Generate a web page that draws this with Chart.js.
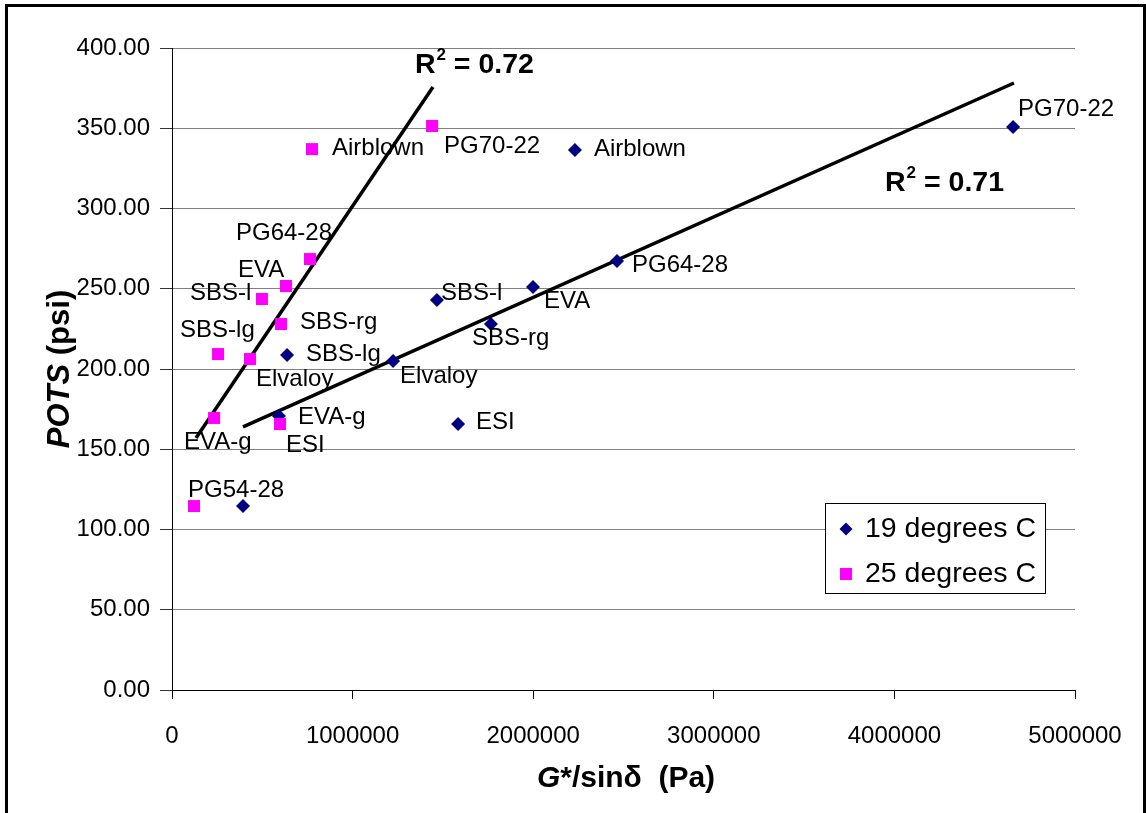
<!DOCTYPE html>
<html lang="en">
<head>
<meta charset="UTF-8" />
<title>POTS x G*/sin delta</title>
<script src="https://cdn.jsdelivr.net/npm/chart.js@4.4.0/dist/chart.umd.min.js"></script>
<style>
  html, body { margin: 0; padding: 0; background: #fff; }
  .caixa { position: relative; width: 1146px; height: 813px; }
</style>
</head>
<body>
<div class="caixa"><canvas id="grafico"></canvas></div>

<script>
  // dados
  const nomes = ["PG54-28", "EVA-g", "ESI", "Elvaloy", "SBS-lg", "SBS-rg", "SBS-l", "EVA", "PG64-28", "Airblown", "PG70-22"];
  const g19 = [393000, 592000, 1584000, 1224000, 637000, 1766000, 1467000, 1999000, 2464000, 2231000, 4657000];
  const pots19 = [114.6, 170.7, 165.7, 205.0, 208.7, 228.0, 243.0, 251.1, 267.3, 336.4, 350.8];
  const g25 = [122000, 233000, 598000, 432000, 255000, 604000, 498000, 631000, 764000, 775000, 1440000];
  const pots25 = [114.6, 169.5, 165.7, 206.2, 209.3, 228.0, 243.6, 251.7, 268.5, 337.0, 351.4];
  const tend19X = [393000, 4662000];
  const tend19Y = [163.9, 378.2];
  const tend25X = [133000, 1445000];
  const tend25Y = [157.0, 375.7];
  const r2Valores = ["0.72", "0.71"];
  const series = ["19 degrees C", "25 degrees C"];

  const fonte = "'Liberation Sans', Arial, sans-serif";
  const azul = "#000080";
  const rosa = "#ff00ff";

  // onde fica cada rotulo em relacao ao ponto (px)
  const desloc19 = [null, [19, 1], [18, -2], [7, 15], [19, -1], [-19, 14], [4, -7], [11, 14], [15, 4], [19, -1], [5, -18]];
  const desloc25 = [[-6, -16], [-30, 24], [6, 21], [6, 20], [-38, -24], [19, -2], [-72, -6], [-48, -16], [-74, -26], [20, -1], [12, 20]];
  // ancora do texto R2 (unidades dos eixos)
  const r2Ancora = [[1345000, 384.4], [3948000, 310.9]];

  function pontos(xs, ys) {
    return xs.map((x, i) => ({ x: x, y: ys[i] }));
  }

  const desenhos = {
    id: "desenhos",
    beforeDraw(chart) {
      const ctx = chart.ctx;
      ctx.save();
      ctx.fillStyle = "#fff";
      ctx.fillRect(0, 0, chart.width, chart.height);
      ctx.restore();
    },
    afterDatasetsDraw(chart) {
      const ctx = chart.ctx;
      ctx.save();
      ctx.fillStyle = "#000";
      ctx.font = "24px " + fonte;
      ctx.textAlign = "left";
      ctx.textBaseline = "middle";
      [[0, desloc25], [1, desloc19]].forEach(([ds, desl]) => {
        const meta = chart.getDatasetMeta(ds);
        meta.data.forEach((p, i) => {
          if (!desl[i]) return;
          ctx.fillText(nomes[i], p.x + desl[i][0], p.y + desl[i][1]);
        });
      });
      ctx.restore();
    },
    afterDraw(chart) {
      const ctx = chart.ctx;
      const sx = chart.scales.x;
      const sy = chart.scales.y;
      ctx.save();

      // moldura
      ctx.strokeStyle = "#000";
      ctx.lineWidth = 3;
      ctx.strokeRect(6.5, 5.5, 1138, 830);

      // R2
      ctx.fillStyle = "#000";
      ctx.textBaseline = "alphabetic";
      ctx.textAlign = "left";
      r2Valores.forEach((v, i) => {
        let x = sx.getPixelForValue(r2Ancora[i][0]);
        const y = sy.getPixelForValue(r2Ancora[i][1]);
        ctx.font = "bold 28.5px " + fonte;
        ctx.fillText("R", x, y);
        x += ctx.measureText("R").width + 1;
        ctx.font = "bold 17px " + fonte;
        ctx.fillText("2", x, y - 13);
        x += ctx.measureText("2").width;
        ctx.font = "bold 28.5px " + fonte;
        ctx.fillText(" = " + v, x, y);
      });

      // titulo eixo y
      ctx.save();
      ctx.translate(60, 369);
      ctx.rotate(-Math.PI / 2);
      ctx.textBaseline = "middle";
      ctx.font = "italic bold 31px " + fonte;
      const a1 = ctx.measureText("POTS").width;
      ctx.font = "bold 31px " + fonte;
      const a2 = ctx.measureText(" (psi)").width;
      let ix = -(a1 + a2) / 2;
      ctx.font = "italic bold 31px " + fonte;
      ctx.fillText("POTS", ix, 0);
      ctx.font = "bold 31px " + fonte;
      ctx.fillText(" (psi)", ix + a1, 0);
      ctx.restore();

      // titulo eixo x
      ctx.textBaseline = "middle";
      ctx.font = "italic bold 30px " + fonte;
      const b1 = ctx.measureText("G").width;
      ctx.font = "bold 30px " + fonte;
      const b2 = ctx.measureText("*/sin\u03b4  (Pa)").width;
      let jx = 626 - (b1 + b2) / 2;
      ctx.font = "italic bold 30px " + fonte;
      ctx.fillText("G", jx, 779);
      ctx.font = "bold 30px " + fonte;
      ctx.fillText("*/sin\u03b4  (Pa)", jx + b1, 779);

      // legenda
      ctx.fillStyle = "#fff";
      ctx.fillRect(825, 503, 221, 91);
      ctx.strokeStyle = "#000";
      ctx.lineWidth = 1;
      ctx.strokeRect(825.5, 503.5, 220, 90);
      ctx.fillStyle = azul;
      ctx.beginPath();
      ctx.moveTo(846, 522.5);
      ctx.lineTo(852.5, 529);
      ctx.lineTo(846, 535.5);
      ctx.lineTo(839.5, 529);
      ctx.closePath();
      ctx.fill();
      ctx.fillStyle = rosa;
      ctx.fillRect(840, 568, 12, 12);
      ctx.fillStyle = "#000";
      ctx.font = "28.5px " + fonte;
      ctx.textBaseline = "middle";
      ctx.fillText(series[0], 865, 529);
      ctx.fillText(series[1], 865, 574);

      ctx.restore();
    }
  };

  const grafico = new Chart("grafico", {
    type: "scatter",
    data: {
      datasets: [
        {
          label: series[1],
          data: pontos(g25, pots25),
          pointStyle: "rect",
          pointRadius: 8.5,
          backgroundColor: rosa,
          borderColor: rosa,
          borderWidth: 0
        },
        {
          label: series[0],
          data: pontos(g19, pots19),
          pointStyle: "rectRot",
          pointRadius: 7,
          backgroundColor: azul,
          borderColor: azul,
          borderWidth: 0
        },
        {
          label: "tend19",
          data: pontos(tend19X, tend19Y),
          showLine: true,
          borderColor: "#000",
          borderWidth: 3.5,
          pointRadius: 0
        },
        {
          label: "tend25",
          data: pontos(tend25X, tend25Y),
          showLine: true,
          borderColor: "#000",
          borderWidth: 3.5,
          pointRadius: 0
        }
      ]
    },
    options: {
      responsive: true,
      maintainAspectRatio: false,
      animation: false,
      events: [],
      layout: { padding: { top: 48, right: 71, left: 0, bottom: 0 } },
      plugins: {
        legend: { display: false },
        tooltip: { enabled: false }
      },
      scales: {
        x: {
          type: "linear",
          min: 0,
          max: 5000000,
          afterFit(scale) { scale.height = 123; },
          border: { color: "#000", width: 1 },
          grid: { drawOnChartArea: false, drawTicks: true, tickLength: 9, tickColor: "#000" },
          ticks: {
            stepSize: 1000000,
            color: "#000",
            padding: 23,
            font: { family: fonte, size: 24 },
            callback: (v) => String(v)
          }
        },
        y: {
          type: "linear",
          min: 0,
          max: 400,
          afterFit(scale) { scale.width = 172; },
          border: { color: "#000", width: 1 },
          grid: { color: "#808080", lineWidth: 1, tickLength: 12, tickColor: "#333" },
          ticks: {
            stepSize: 50,
            color: "#000",
            padding: 10,
            font: { family: fonte, size: 24 },
            callback: (v) => v.toFixed(2)
          }
        }
      }
    },
    plugins: [desenhos]
  });
</script>
</body>
</html>
